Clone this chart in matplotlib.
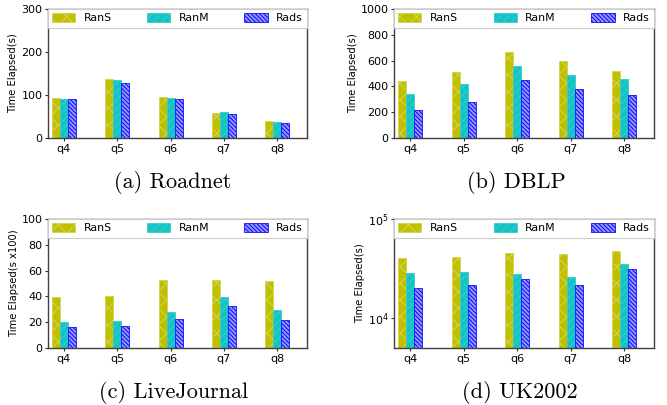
import matplotlib
matplotlib.use("Agg")
import matplotlib.pyplot as plt
import numpy as np

queries = ["q4", "q5", "q6", "q7", "q8"]
methods = ["RanS", "RanM", "Rads"]

roadnet_rans = [93, 137, 95, 58, 39]
roadnet_ranm = [90, 135, 93, 60, 37]
roadnet_rads = [90, 128, 90, 55, 34]

dblp_rans = [442, 512, 670, 600, 522]
dblp_ranm = [340, 421, 558, 488, 455]
dblp_rads = [218, 278, 449, 379, 332]

lj_rans = [39.3, 40.6, 53, 53, 52.2]
lj_ranm = [20.4, 21.2, 28.2, 39.8, 29.7]
lj_rads = [16.5, 17.3, 22.7, 32.8, 22]

uk_rans = [40600, 41600, 45400, 44000, 47500]
uk_ranm = [28700, 29600, 28000, 25900, 35400]
uk_rads = [20400, 21700, 24900, 21900, 31300]

panels = [
    ("(a) Roadnet", "Time Elapsed(s)", [roadnet_rans, roadnet_ranm, roadnet_rads], (0, 300), [0, 100, 200, 300], False),
    ("(b) DBLP", "Time Elapsed(s)", [dblp_rans, dblp_ranm, dblp_rads], (0, 1000), [0, 200, 400, 600, 800, 1000], False),
    ("(c) LiveJournal", "Time Elapsed(s x100)", [lj_rans, lj_ranm, lj_rads], (0, 100), [0, 20, 40, 60, 80, 100], False),
    ("(d) UK2002", "Time Elapsed(s)", [uk_rans, uk_ranm, uk_rads], (5050, 100000), None, True),
]

W, H = 667, 405
fig = plt.figure(figsize=(W / 100, H / 100), dpi=100)

boxes = [
    (48, 9, 307, 138),
    (394, 9, 654, 138),
    (48, 219, 307, 348),
    (394, 219, 654, 348),
]
caps = [(173, 183), (516, 183), (174, 393), (520, 392)]

styles = [
    dict(facecolor="#c0c000", edgecolor="#d2d250", hatch="xx"),
    dict(facecolor="#14c4c4", edgecolor="#34cccc", hatch="////"),
    dict(facecolor="#9a9aff", edgecolor="#1010ff", hatch="\\\\\\\\\\\\\\\\"),
]

plt.rcParams["hatch.linewidth"] = 0.8
fs = 8.0
lfs = 7.9
w = 0.15
x = np.arange(len(queries))

for (cap, ylab, series, ylim, yticks, logy), (l, t, r, b), (cx, cy) in zip(panels, boxes, caps):
    ax = fig.add_axes([l / W, 1 - b / H, (r - l) / W, (b - t) / H])
    handles = []
    for i, (vals, st) in enumerate(zip(series, styles)):
        h = ax.bar(x + (i - 1) * w, vals, w, linewidth=0.6, label=methods[i], **st)
        handles.append(h)
    if logy:
        ax.set_yscale("log")
        ax.set_yticks([1e4, 1e5])
        ax.minorticks_off()
    else:
        ax.set_yticks(yticks)
    ax.set_ylim(*ylim)
    ax.set_xlim(-0.3, 4.56)
    ax.set_xticks(x)
    ax.set_xticklabels(queries)
    ax.tick_params(labelsize=fs, length=2.5, width=0.8, pad=1.5, color="0.2")
    ax.set_ylabel(ylab, fontsize=7.2, labelpad=2)
    for s in ax.spines.values():
        s.set_color("0.25")
        s.set_linewidth(1.0)
    leg = ax.legend(handles=handles, loc="upper left", bbox_to_anchor=(0, 0, 1, 1), mode="expand",
                    ncol=3, fontsize=lfs, borderaxespad=0, fancybox=False, framealpha=1,
                    edgecolor="0.8", handlelength=2.1, handleheight=0.8, borderpad=0.4,
                    handletextpad=0.75)
    leg.get_frame().set_linewidth(0.8)
    fig.text(cx / W, 1 - cy / H, cap, ha="center", va="center", fontsize=16,
             fontfamily="cmr10")

fig.savefig("out.png", dpi=100)
